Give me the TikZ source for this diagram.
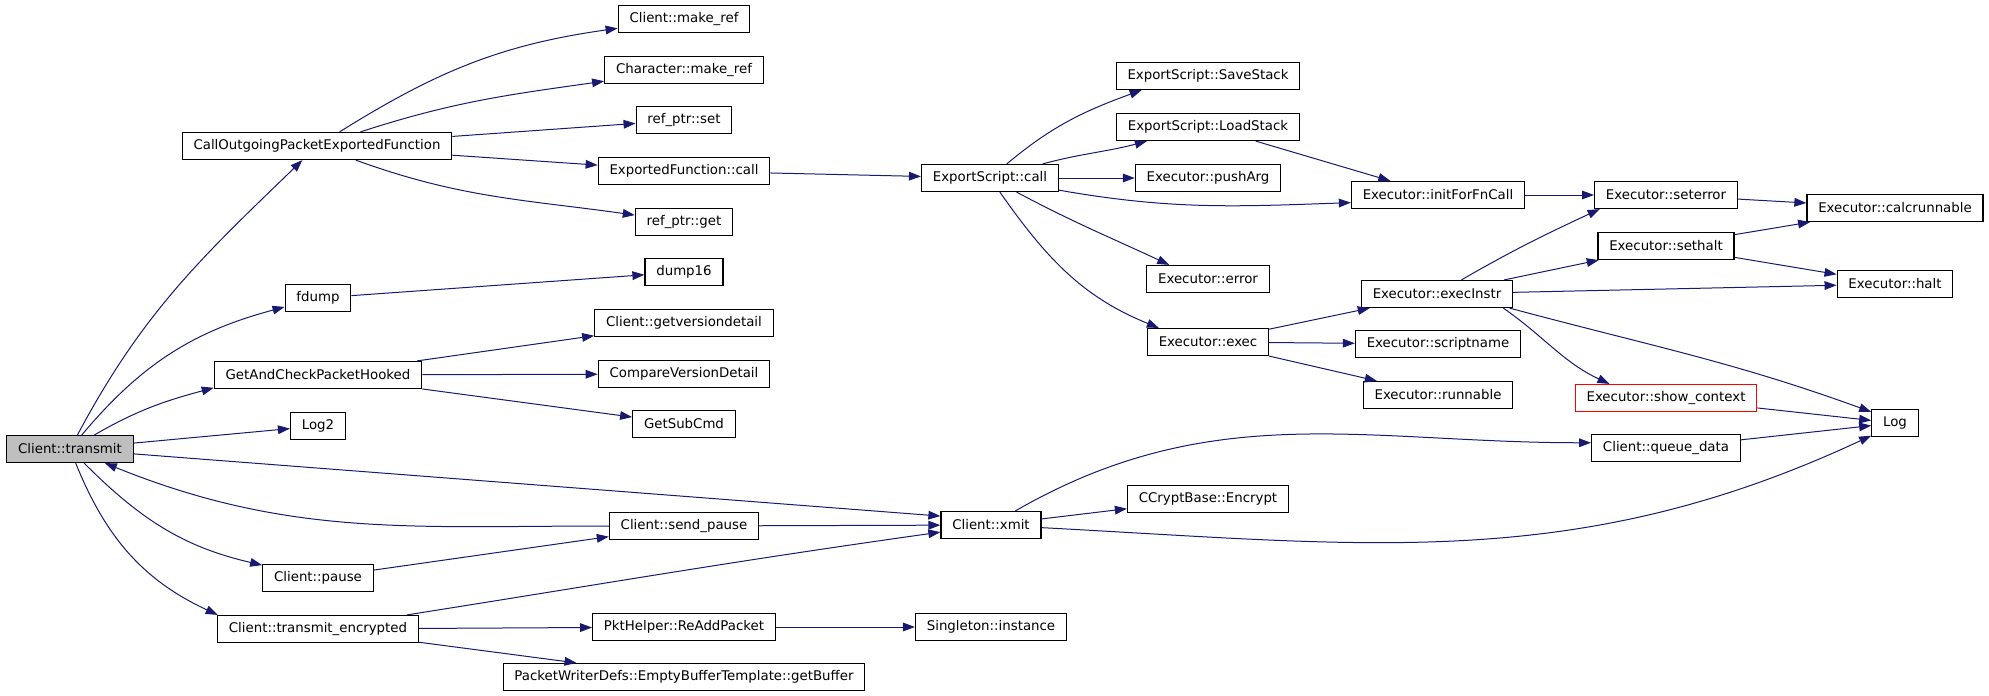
\documentclass[tikz,border=0pt]{standalone}
\usepackage{fontspec}
\setmainfont{DejaVu Sans}
\usetikzlibrary{arrows.meta}
\definecolor{edgeblue}{RGB}{25,25,112}

\begin{document}
\begin{tikzpicture}[x=0.75pt,y=-0.75pt,
  fn/.style={draw,line width=0.9pt,inner xsep=8.5pt,inner ysep=0pt,
    minimum height=20.25pt,font=\fontsize{10}{12}\selectfont},
  root/.style={fn,fill=black!25},
  nodoc/.style={fn,draw=red},
  call/.style={draw=edgeblue,line width=0.75pt,-{Triangle[length=9pt,width=6.5pt]}}]
  \useasboundingbox (0,0) rectangle (1989,696);

  \node[root] (transmit) at (70,449) {Client::transmit};
  \node[fn] (callout) at (317,146) {CallOutgoingPacketExportedFunction};
  \node[fn] (fdump) at (318,298) {fdump};
  \node[fn] (getcheck) at (318,375) {GetAndCheckPacketHooked};
  \node[fn] (logtwo) at (318,426) {Log2};
  \node[fn] (pause) at (318,578) {Client::pause};
  \node[fn] (trenc) at (318,629) {Client::transmit\_encrypted};

  \node[fn] (mkref) at (684,19) {Client::make\_ref};
  \node[fn] (chmkref) at (684,70) {Character::make\_ref};
  \node[fn] (refset) at (684,120) {ref\_ptr::set};
  \node[fn] (expfn) at (684,171) {ExportedFunction::call};
  \node[fn] (refget) at (684,222) {ref\_ptr::get};
  \node[fn] (dumpsix) at (684,272) {dump16};
  \node[fn] (getver) at (684,323) {Client::getversiondetail};
  \node[fn] (cmpver) at (684,374) {CompareVersionDetail};
  \node[fn] (subcmd) at (684,424) {GetSubCmd};
  \node[fn] (sendpause) at (684,526) {Client::send\_pause};
  \node[fn] (readd) at (684,627) {PktHelper::ReAddPacket};
  \node[fn] (getbuf) at (684,677) {PacketWriterDefs::EmptyBufferTemplate::getBuffer};

  \node[fn] (escall) at (990,178) {ExportScript::call};
  \node[fn] (xmit) at (991,525) {Client::xmit};
  \node[fn] (singleton) at (991,627) {Singleton::instance};

  \node[fn] (savestk) at (1208,76) {ExportScript::SaveStack};
  \node[fn] (loadstk) at (1208,127) {ExportScript::LoadStack};
  \node[fn] (pusharg) at (1208,178) {Executor::pushArg};
  \node[fn] (error) at (1208,279) {Executor::error};
  \node[fn] (exec) at (1208,342) {Executor::exec};
  \node[fn] (encrypt) at (1208,499) {CCryptBase::Encrypt};

  \node[fn] (initfn) at (1438,195) {Executor::initForFnCall};
  \node[fn] (execinstr) at (1437,294) {Executor::execInstr};
  \node[fn] (scriptname) at (1438,344) {Executor::scriptname};
  \node[fn] (runnable) at (1438,395) {Executor::runnable};

  \node[fn] (seterror) at (1666,195) {Executor::seterror};
  \node[fn] (sethalt) at (1666,246) {Executor::sethalt};
  \node[nodoc] (showctx) at (1666,398) {Executor::show\_context};
  \node[fn] (queuedata) at (1666,448) {Client::queue\_data};

  \node[fn] (calcrun) at (1895,208) {Executor::calcrunnable};
  \node[fn] (halt) at (1895,284) {Executor::halt};
  \node[fn] (log) at (1895,423) {Log};

  \draw[call] (transmit) to[out=62,in=224] (callout);
  \draw[call] (transmit) to[out=50,in=195] (fdump);
  \draw[call] (transmit) to[out=30,in=195] (getcheck.187);
  \draw[call] (transmit) -- (logtwo);
  \draw[call] (transmit) -- (xmit.170);
  \draw[call] (sendpause) to[out=180,in=-22] (transmit);
  \draw[call] (transmit) to[out=-45,in=167] (pause);
  \draw[call] (transmit) to[out=-68,in=155] (trenc.172);

  \draw[call] (callout) to[out=32,in=188] (mkref);
  \draw[call] (callout) to[out=18,in=188] (chmkref);
  \draw[call] (callout) -- (refset);
  \draw[call] (callout) -- (expfn);
  \draw[call] (callout) to[out=-20,in=172] (refget);
  \draw[call] (fdump) -- (dumpsix);
  \draw[call] (getcheck) -- (getver);
  \draw[call] (getcheck) -- (cmpver);
  \draw[call] (getcheck) -- (subcmd);
  \draw[call] (pause) -- (sendpause);
  \draw[call] (sendpause) -- (xmit);
  \draw[call] (trenc) to[out=9,in=188] (xmit);
  \draw[call] (trenc) -- (readd);
  \draw[call] (trenc) -- (getbuf);
  \draw[call] (readd) -- (singleton);

  \draw[call] (expfn) -- (escall);
  \draw[call] (escall) to[out=40,in=200] (savestk.192);
  \draw[call] (escall) to[out=15,in=195] (loadstk.193);
  \draw[call] (escall) -- (pusharg);
  \draw[call] (escall) to[out=-10,in=182] (initfn.185);
  \draw[call] (escall) to[out=-28,in=155] (error.160);
  \draw[call] (escall) to[out=-55,in=158] (exec.164);
  \draw[call] (loadstk) -- (initfn);
  \draw[call] (initfn) -- (seterror);
  \draw[call] (exec) -- (execinstr);
  \draw[call] (exec) -- (scriptname);
  \draw[call] (exec) -- (runnable);

  \draw[call] (execinstr) to[out=30,in=205] (seterror.192);
  \draw[call] (execinstr) -- (sethalt);
  \draw[call] (execinstr) -- (halt);
  \draw[call] (execinstr.-12) to[out=-35,in=155] (showctx.166);
  \draw[call] (execinstr.-11) to[out=-15,in=160] (log.155);
  \draw[call] (seterror) -- (calcrun);
  \draw[call] (sethalt) -- (calcrun);
  \draw[call] (sethalt) -- (halt);
  \draw[call] (showctx) -- (log);
  \draw[call] (queuedata) -- (log);

  \draw[call] (xmit) to[out=30,in=180] (queuedata.176);
  \draw[call] (xmit) -- (encrypt);
  \draw[call] (xmit) to[out=-3,in=205] (log.208);
\end{tikzpicture}
\end{document}
